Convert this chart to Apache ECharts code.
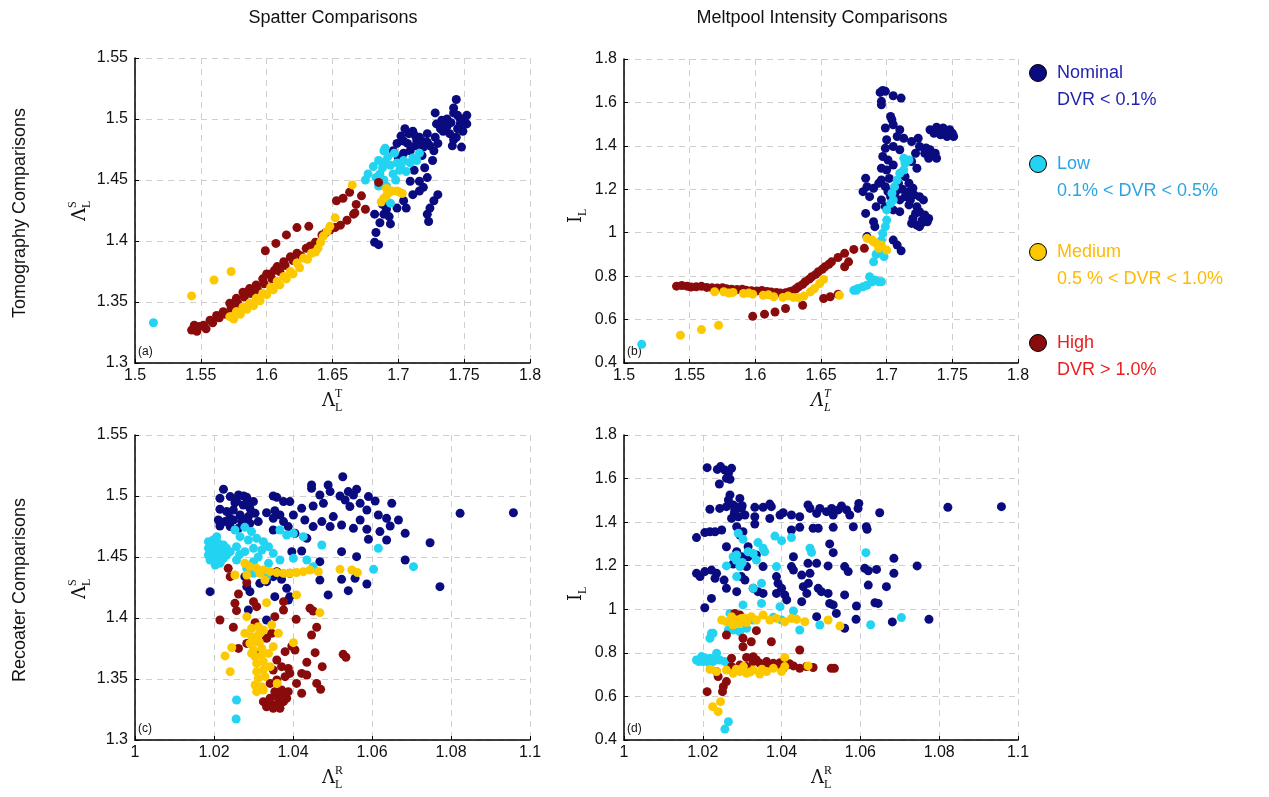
<!DOCTYPE html>
<html><head><meta charset="utf-8">
<script src="https://cdn.jsdelivr.net/npm/echarts@6/dist/echarts.min.js"></script>
<style>html,body{margin:0;padding:0;background:#fff}#c{width:1269px;height:797px}</style>
</head><body><div id="c"></div>
<script>
// ---------- DATA ----------
const categories = ['Nominal', 'Low', 'Medium', 'High'];
const categoryRanges = ['DVR < 0.1%', '0.1% < DVR < 0.5%', '0.5 % < DVR < 1.0%', 'DVR > 1.0%'];
const panelTitles = ['Spatter Comparisons', 'Meltpool Intensity Comparisons'];
const rowTitles = ['Tomography Comparisons', 'Recoater Comparisons'];
const panelLetters = ['(a)', '(b)', '(c)', '(d)'];
const xTicksTomo = [1.5, 1.55, 1.6, 1.65, 1.7, 1.75, 1.8];
const xTicksRec = [1, 1.02, 1.04, 1.06, 1.08, 1.1];
const yTicksSpatter = [1.3, 1.35, 1.4, 1.45, 1.5, 1.55];
const yTicksIntensity = [0.4, 0.6, 0.8, 1, 1.2, 1.4, 1.6, 1.8];

// (a) Tomography vs Spatter
const aNominal = [[1.682,1.399],[1.685,1.397],[1.683,1.407],[1.686,1.415],[1.682,1.422],[1.689,1.422],[1.694,1.414],[1.691,1.426],[1.699,1.427],[1.706,1.427],[1.704,1.433],[1.711,1.438],[1.709,1.449],[1.716,1.449],[1.722,1.452],[1.719,1.444],[1.722,1.422],[1.724,1.427],[1.727,1.433],[1.730,1.438],[1.723,1.416],[1.716,1.441],[1.696,1.474],[1.699,1.480],[1.704,1.482],[1.708,1.488],[1.705,1.492],[1.711,1.490],[1.716,1.485],[1.722,1.481],[1.727,1.474],[1.726,1.466],[1.719,1.477],[1.709,1.474],[1.704,1.472],[1.714,1.482],[1.728,1.485],[1.722,1.488],[1.729,1.496],[1.733,1.499],[1.737,1.500],[1.742,1.505],[1.744,1.516],[1.742,1.509],[1.747,1.496],[1.749,1.490],[1.752,1.503],[1.752,1.496],[1.739,1.488],[1.742,1.483],[1.748,1.477],[1.744,1.485],[1.737,1.494],[1.732,1.492],[1.747,1.500],[1.728,1.505],[1.735,1.497],[1.740,1.497],[1.745,1.503],[1.750,1.500],[1.713,1.478],[1.718,1.470],[1.700,1.468],[1.712,1.458],[1.720,1.460],[1.688,1.430],[1.693,1.420],[1.702,1.486],[1.707,1.480],[1.713,1.486],[1.718,1.482],[1.724,1.478],[1.730,1.480],[1.734,1.490],[1.745,1.492],[1.741,1.478]];
const aLow = [[1.514,1.333],[1.675,1.450],[1.677,1.455],[1.681,1.461],[1.685,1.466],[1.689,1.474],[1.690,1.476],[1.686,1.455],[1.689,1.450],[1.691,1.445],[1.692,1.439],[1.694,1.431],[1.685,1.445],[1.696,1.455],[1.699,1.464],[1.704,1.466],[1.709,1.464],[1.711,1.468],[1.716,1.472],[1.714,1.466],[1.701,1.458],[1.706,1.457],[1.697,1.472],[1.692,1.469],[1.688,1.460],[1.683,1.452],[1.694,1.462],[1.698,1.450],[1.702,1.462],[1.690,1.465]];
const aMedium = [[1.572,1.338],[1.575,1.336],[1.577,1.342],[1.580,1.340],[1.582,1.346],[1.585,1.344],[1.587,1.349],[1.590,1.347],[1.592,1.353],[1.595,1.351],[1.597,1.357],[1.600,1.356],[1.603,1.362],[1.605,1.360],[1.608,1.367],[1.610,1.364],[1.613,1.371],[1.615,1.369],[1.618,1.375],[1.620,1.373],[1.623,1.382],[1.625,1.378],[1.628,1.386],[1.631,1.385],[1.634,1.390],[1.637,1.391],[1.639,1.394],[1.641,1.399],[1.643,1.404],[1.646,1.408],[1.648,1.412],[1.652,1.419],[1.665,1.446],[1.543,1.355],[1.560,1.368],[1.573,1.375],[1.687,1.432],[1.689,1.435],[1.691,1.437],[1.693,1.440],[1.695,1.441],[1.699,1.441],[1.701,1.440],[1.703,1.439],[1.691,1.443]];
const aHigh = [[1.543,1.327],[1.545,1.331],[1.547,1.326],[1.549,1.330],[1.552,1.331],[1.554,1.328],[1.557,1.335],[1.559,1.333],[1.562,1.339],[1.564,1.337],[1.567,1.342],[1.569,1.340],[1.572,1.349],[1.573,1.345],[1.577,1.353],[1.578,1.349],[1.582,1.358],[1.583,1.354],[1.587,1.361],[1.588,1.357],[1.592,1.364],[1.593,1.360],[1.597,1.369],[1.598,1.365],[1.600,1.373],[1.603,1.373],[1.604,1.369],[1.606,1.376],[1.608,1.379],[1.610,1.375],[1.613,1.383],[1.614,1.380],[1.618,1.387],[1.620,1.384],[1.623,1.390],[1.626,1.388],[1.630,1.394],[1.633,1.396],[1.637,1.399],[1.642,1.405],[1.645,1.407],[1.648,1.409],[1.652,1.411],[1.656,1.413],[1.661,1.417],[1.666,1.422],[1.599,1.392],[1.607,1.398],[1.615,1.405],[1.623,1.411],[1.632,1.412],[1.653,1.433],[1.658,1.435],[1.663,1.440],[1.672,1.437],[1.668,1.430],[1.675,1.426],[1.667,1.423],[1.685,1.448]];

// (b) Tomography vs Meltpool intensity
const bNominal = [[1.695,1.646],[1.697,1.655],[1.699,1.651],[1.696,1.605],[1.696,1.589],[1.705,1.631],[1.711,1.620],[1.703,1.535],[1.704,1.520],[1.699,1.482],[1.705,1.497],[1.710,1.474],[1.708,1.443],[1.713,1.435],[1.700,1.428],[1.699,1.389],[1.705,1.397],[1.710,1.382],[1.719,1.420],[1.724,1.435],[1.697,1.351],[1.701,1.335],[1.705,1.312],[1.696,1.297],[1.700,1.289],[1.733,1.474],[1.738,1.486],[1.743,1.482],[1.748,1.474],[1.751,1.443],[1.746,1.443],[1.741,1.451],[1.736,1.458],[1.745,1.460],[1.750,1.458],[1.740,1.470],[1.725,1.397],[1.729,1.366],[1.733,1.382],[1.737,1.366],[1.738,1.343],[1.732,1.343],[1.722,1.366],[1.719,1.328],[1.723,1.297],[1.730,1.390],[1.684,1.251],[1.685,1.212],[1.682,1.189],[1.687,1.166],[1.690,1.205],[1.694,1.228],[1.696,1.243],[1.699,1.212],[1.701,1.189],[1.703,1.166],[1.706,1.166],[1.710,1.151],[1.714,1.166],[1.717,1.189],[1.721,1.174],[1.725,1.166],[1.728,1.151],[1.717,1.228],[1.714,1.258],[1.709,1.228],[1.696,1.151],[1.692,1.120],[1.699,1.120],[1.705,1.105],[1.710,1.097],[1.717,1.128],[1.723,1.120],[1.725,1.097],[1.729,1.082],[1.732,1.066],[1.720,1.066],[1.723,1.035],[1.725,1.028],[1.719,1.043],[1.722,1.089],[1.727,1.058],[1.684,1.089],[1.690,1.051],[1.691,1.028],[1.685,0.982],[1.705,0.966],[1.708,0.943],[1.711,0.917],[1.712,1.200],[1.707,1.190],[1.720,1.205],[1.727,1.045],[1.731,1.050],[1.718,1.150],[1.702,1.250]];
const bLow = [[1.5135,0.486],[1.675,0.735],[1.677,0.735],[1.678,0.743],[1.682,0.751],[1.685,0.758],[1.689,0.774],[1.687,0.797],[1.691,0.782],[1.694,0.774],[1.696,0.774],[1.690,0.866],[1.693,0.905],[1.695,0.935],[1.696,0.966],[1.697,0.997],[1.699,1.028],[1.700,1.058],[1.700,1.105],[1.703,1.135],[1.704,1.182],[1.705,1.151],[1.706,1.212],[1.708,1.243],[1.710,1.274],[1.713,1.289],[1.714,1.320],[1.717,1.335],[1.713,1.343],[1.697,0.905],[1.698,0.890],[1.692,0.900]];
const bMedium = [[1.543,0.528],[1.559,0.554],[1.572,0.574],[1.664,0.712],[1.569,0.728],[1.576,0.728],[1.583,0.725],[1.591,0.720],[1.598,0.717],[1.606,0.712],[1.614,0.705],[1.621,0.702],[1.629,0.702],[1.637,0.708],[1.642,0.728],[1.645,0.743],[1.649,0.766],[1.652,0.785],[1.580,0.722],[1.595,0.722],[1.610,0.714],[1.625,0.709],[1.633,0.700],[1.685,0.974],[1.689,0.966],[1.692,0.951],[1.696,0.943],[1.700,0.920],[1.694,0.928],[1.690,0.958]];
const bHigh = [[1.540,0.754],[1.544,0.757],[1.548,0.754],[1.551,0.750],[1.555,0.751],[1.559,0.753],[1.563,0.748],[1.567,0.746],[1.571,0.745],[1.575,0.747],[1.578,0.742],[1.582,0.740],[1.586,0.738],[1.590,0.740],[1.593,0.735],[1.597,0.733],[1.601,0.732],[1.605,0.734],[1.609,0.729],[1.612,0.727],[1.616,0.725],[1.619,0.722],[1.623,0.723],[1.626,0.728],[1.628,0.732],[1.631,0.742],[1.633,0.751],[1.636,0.762],[1.638,0.774],[1.641,0.786],[1.643,0.797],[1.646,0.808],[1.648,0.820],[1.651,0.832],[1.653,0.843],[1.656,0.855],[1.658,0.866],[1.663,0.886],[1.668,0.905],[1.675,0.923],[1.683,0.928],[1.598,0.615],[1.607,0.625],[1.615,0.635],[1.623,0.651],[1.636,0.666],[1.652,0.697],[1.657,0.705],[1.663,0.717],[1.668,0.843],[1.671,0.866]];

// (c) Recoater vs Spatter
const cNominal = [[1.0224,1.5055],[1.0215,1.4981],[1.0241,1.4995],[1.0262,1.5008],[1.0283,1.4989],[1.0300,1.4954],[1.0253,1.4945],[1.0274,1.4926],[1.0291,1.4899],[1.0215,1.4891],[1.0232,1.4872],[1.0249,1.4885],[1.0266,1.4844],[1.0287,1.4831],[1.0304,1.4858],[1.0211,1.4803],[1.0228,1.4790],[1.0249,1.4803],[1.0270,1.4790],[1.0291,1.4776],[1.0312,1.4790],[1.0215,1.4754],[1.0241,1.4749],[1.0262,1.4735],[1.0283,1.4940],[1.0333,1.4863],[1.0350,1.5000],[1.0359,1.4989],[1.0376,1.4954],[1.0392,1.4954],[1.0354,1.4880],[1.0367,1.4844],[1.0401,1.4844],[1.0376,1.4790],[1.0422,1.4899],[1.0430,1.4803],[1.0350,1.4817],[1.0388,1.4749],[1.0350,1.4721],[1.0405,1.4694],[1.0526,1.5158],[1.0447,1.5090],[1.0447,1.5063],[1.0489,1.5090],[1.0494,1.5036],[1.0468,1.5008],[1.0477,1.4940],[1.0451,1.4918],[1.0519,1.5000],[1.0540,1.5036],[1.0561,1.5055],[1.0553,1.5008],[1.0532,1.4967],[1.0544,1.4913],[1.0570,1.4940],[1.0591,1.4995],[1.0608,1.4959],[1.0650,1.4940],[1.0587,1.4885],[1.0616,1.4844],[1.0637,1.4817],[1.0667,1.4803],[1.0823,1.4858],[1.0958,1.4863],[1.0570,1.4803],[1.0502,1.4831],[1.0473,1.4790],[1.0451,1.4749],[1.0494,1.4749],[1.0523,1.4762],[1.0553,1.4735],[1.0587,1.4727],[1.0620,1.4708],[1.0646,1.4754],[1.0684,1.4694],[1.0591,1.4645],[1.0637,1.4639],[1.0747,1.4617],[1.0684,1.4475],[1.0523,1.4544],[1.0561,1.4503],[1.0468,1.4462],[1.0587,1.4279],[1.0772,1.4257],[1.0489,1.4189],[1.0540,1.4224],[1.0468,1.4311],[1.0557,1.4325],[1.0523,1.4317],[1.0435,1.4653],[1.0422,1.4549],[1.0397,1.4544],[1.0190,1.4216],[1.0283,1.4257],[1.0291,1.4216],[1.0278,1.4339],[1.0300,1.4393],[1.0316,1.4284],[1.0333,1.4298],[1.0354,1.4175],[1.0350,1.4339],[1.0371,1.4317],[1.0384,1.4243],[1.0392,1.4175],[1.0388,1.4148],[1.0333,1.3984],[1.0287,1.4066],[1.0359,1.4380],[1.0392,1.4366],[1.0257,1.4960],[1.0275,1.5000],[1.0295,1.4860],[1.0240,1.4820],[1.0280,1.4800]];
const cLow = [[1.0186,1.4626],[1.0186,1.4571],[1.0186,1.4516],[1.0190,1.4475],[1.0198,1.4639],[1.0198,1.4585],[1.0198,1.4530],[1.0203,1.4434],[1.0211,1.4612],[1.0211,1.4557],[1.0211,1.4503],[1.0215,1.4448],[1.0224,1.4598],[1.0224,1.4544],[1.0224,1.4489],[1.0232,1.4571],[1.0232,1.4516],[1.0241,1.4544],[1.0207,1.4667],[1.0192,1.4600],[1.0205,1.4540],[1.0218,1.4470],[1.0200,1.4490],[1.0253,1.4721],[1.0278,1.4743],[1.0295,1.4708],[1.0266,1.4667],[1.0287,1.4639],[1.0308,1.4653],[1.0325,1.4626],[1.0257,1.4585],[1.0278,1.4544],[1.0300,1.4571],[1.0321,1.4557],[1.0338,1.4585],[1.0350,1.4530],[1.0367,1.4721],[1.0384,1.4680],[1.0401,1.4694],[1.0426,1.4667],[1.0367,1.4475],[1.0401,1.4489],[1.0435,1.4475],[1.0451,1.4421],[1.0473,1.4598],[1.0616,1.4571],[1.0604,1.4399],[1.0705,1.4421],[1.0257,1.4475],[1.0283,1.4407],[1.0300,1.4366],[1.0333,1.4339],[1.0257,1.3328],[1.0256,1.3172],[1.0300,1.4462],[1.0338,1.4448],[1.0265,1.4520],[1.0312,1.4500]];
const cMedium = [[1.0278,1.4448],[1.0291,1.4421],[1.0308,1.4407],[1.0325,1.4393],[1.0342,1.4380],[1.0359,1.4372],[1.0376,1.4366],[1.0392,1.4366],[1.0409,1.4372],[1.0426,1.4380],[1.0443,1.4393],[1.0464,1.4380],[1.0519,1.4399],[1.0549,1.4393],[1.0563,1.4372],[1.0283,1.4352],[1.0316,1.4366],[1.0253,1.4352],[1.0329,1.4311],[1.0409,1.4189],[1.0333,1.4126],[1.0468,1.4044],[1.0283,1.4011],[1.0346,1.3943],[1.0401,1.3798],[1.0228,1.3689],[1.0241,1.3560],[1.0245,1.3757],[1.0360,1.3464],[1.0295,1.3915],[1.0312,1.3929],[1.0325,1.3902],[1.0278,1.3874],[1.0295,1.3847],[1.0312,1.3861],[1.0291,1.3792],[1.0308,1.3806],[1.0300,1.3738],[1.0321,1.3751],[1.0304,1.3683],[1.0321,1.3697],[1.0308,1.3628],[1.0325,1.3642],[1.0308,1.3560],[1.0325,1.3574],[1.0312,1.3505],[1.0329,1.3519],[1.0304,1.3451],[1.0321,1.3437],[1.0308,1.3396],[1.0325,1.3410],[1.0295,1.3710],[1.0342,1.3601],[1.0338,1.3710],[1.0363,1.3874],[1.0350,1.3765],[1.0315,1.3800],[1.0318,1.3880]];
const cHigh = [[1.0325,1.3314],[1.0338,1.3301],[1.0350,1.3287],[1.0363,1.3301],[1.0376,1.3314],[1.0384,1.3342],[1.0342,1.3342],[1.0359,1.3355],[1.0376,1.3369],[1.0350,1.3260],[1.0367,1.3260],[1.0333,1.3273],[1.0354,1.3396],[1.0371,1.3410],[1.0388,1.3396],[1.0342,1.3464],[1.0359,1.3492],[1.0380,1.3519],[1.0392,1.3546],[1.0350,1.3574],[1.0371,1.3601],[1.0388,1.3587],[1.0422,1.3546],[1.0435,1.3533],[1.0460,1.3464],[1.0470,1.3415],[1.0409,1.3464],[1.0422,1.3383],[1.0435,1.3637],[1.0474,1.3601],[1.0456,1.3716],[1.0527,1.3702],[1.0534,1.3678],[1.0405,1.3738],[1.0397,1.3770],[1.0380,1.3724],[1.0359,1.3656],[1.0333,1.3833],[1.0346,1.3874],[1.0316,1.3710],[1.0283,1.3792],[1.0262,1.3751],[1.0447,1.3861],[1.0460,1.3924],[1.0443,1.4079],[1.0451,1.4057],[1.0408,1.3989],[1.0376,1.4066],[1.0376,1.4134],[1.0300,1.4134],[1.0308,1.4093],[1.0253,1.4120],[1.0257,1.4060],[1.0215,1.3984],[1.0249,1.3924],[1.0304,1.3962],[1.0262,1.4197],[1.0241,1.4339],[1.0236,1.4407],[1.0283,1.4290],[1.0354,1.4011]];

// (d) Recoater vs Meltpool intensity
const dNominal = [[1.0211,1.650],[1.0237,1.642],[1.0245,1.655],[1.0256,1.639],[1.0265,1.624],[1.0273,1.647],[1.0260,1.601],[1.0242,1.575],[1.0269,1.597],[1.0269,1.525],[1.0265,1.502],[1.0218,1.459],[1.0243,1.463],[1.0260,1.471],[1.0277,1.479],[1.0294,1.509],[1.0281,1.456],[1.0298,1.463],[1.0307,1.433],[1.0290,1.425],[1.0273,1.417],[1.0332,1.468],[1.0353,1.468],[1.0370,1.483],[1.0374,1.471],[1.0332,1.425],[1.0332,1.391],[1.0370,1.417],[1.0396,1.433],[1.0404,1.443],[1.0425,1.433],[1.0446,1.425],[1.0467,1.479],[1.0472,1.463],[1.0489,1.440],[1.0497,1.463],[1.0514,1.448],[1.0527,1.463],[1.0531,1.433],[1.0544,1.456],[1.0552,1.474],[1.0565,1.456],[1.0573,1.433],[1.0594,1.463],[1.0596,1.486],[1.0480,1.372],[1.0493,1.372],[1.0531,1.376],[1.0446,1.376],[1.0425,1.364],[1.0582,1.379],[1.0615,1.379],[1.0617,1.367],[1.0649,1.443],[1.0822,1.468],[1.0958,1.471],[1.0184,1.329],[1.0205,1.352],[1.0218,1.356],[1.0231,1.356],[1.0248,1.364],[1.0286,1.379],[1.0302,1.356],[1.0294,1.341],[1.0260,1.287],[1.0286,1.264],[1.0298,1.241],[1.0315,1.241],[1.0336,1.249],[1.0315,1.287],[1.0311,1.196],[1.0277,1.208],[1.0298,1.150],[1.0307,1.134],[1.0286,1.081],[1.0328,1.096],[1.0340,1.081],[1.0353,1.073],[1.0353,1.196],[1.0387,1.150],[1.0391,1.119],[1.0400,1.096],[1.0387,1.073],[1.0408,1.066],[1.0413,1.043],[1.0425,1.196],[1.0430,1.180],[1.0430,1.241],[1.0451,1.157],[1.0455,1.104],[1.0464,1.073],[1.0451,1.035],[1.0468,1.119],[1.0472,1.165],[1.0467,1.211],[1.0489,1.211],[1.0493,1.096],[1.0501,1.081],[1.0518,1.073],[1.0522,1.027],[1.0531,1.020],[1.0539,0.981],[1.0522,1.300],[1.0531,1.260],[1.0518,1.199],[1.0560,1.196],[1.0569,1.173],[1.0560,1.066],[1.0590,1.015],[1.0589,0.954],[1.0611,1.188],[1.0620,1.177],[1.0641,1.183],[1.0620,1.111],[1.0637,1.030],[1.0645,1.027],[1.0666,1.104],[1.0685,1.234],[1.0685,1.165],[1.0681,0.942],[1.0744,1.199],[1.0774,0.954],[1.0560,0.913],[1.0489,0.966],[1.0184,1.165],[1.0193,1.150],[1.0205,1.173],[1.0222,1.180],[1.0235,1.165],[1.0231,1.142],[1.0254,1.134],[1.0222,1.050],[1.0205,1.007],[1.0260,1.096],[1.0280,1.440],[1.0300,1.475],[1.0285,1.470]];
const dLow = [[1.0184,0.767],[1.0193,0.770],[1.0201,0.760],[1.0210,0.767],[1.0218,0.775],[1.0226,0.760],[1.0235,0.798],[1.0243,0.767],[1.0256,0.760],[1.0265,0.752],[1.0197,0.783],[1.0218,0.749],[1.0190,0.760],[1.0205,0.775],[1.0230,0.770],[1.0222,0.890],[1.0218,0.867],[1.0226,0.890],[1.0265,0.905],[1.0256,0.450],[1.0265,0.484],[1.0290,1.349],[1.0302,1.321],[1.0286,1.249],[1.0277,1.241],[1.0260,1.199],[1.0286,1.150],[1.0294,1.196],[1.0315,1.264],[1.0328,1.256],[1.0340,1.306],[1.0353,1.280],[1.0357,1.264],[1.0336,1.226],[1.0387,1.196],[1.0383,1.336],[1.0425,1.329],[1.0400,1.315],[1.0328,1.096],[1.0349,1.119],[1.0349,1.027],[1.0302,1.020],[1.0269,0.981],[1.0379,0.963],[1.0400,0.951],[1.0430,0.992],[1.0446,0.905],[1.0396,1.012],[1.0472,1.280],[1.0476,1.261],[1.0614,1.260],[1.0497,0.928],[1.0626,0.929],[1.0704,0.962],[1.0277,0.905],[1.0294,0.897],[1.0311,0.913],[1.0328,0.951],[1.0285,1.225],[1.0300,1.215]];
const dMedium = [[1.0248,0.951],[1.0260,0.943],[1.0273,0.966],[1.0286,0.951],[1.0298,0.958],[1.0311,0.939],[1.0323,0.966],[1.0336,0.951],[1.0353,0.974],[1.0370,0.951],[1.0387,0.958],[1.0408,0.943],[1.0425,0.958],[1.0438,0.954],[1.0459,0.943],[1.0518,0.951],[1.0548,0.923],[1.0277,0.928],[1.0292,0.935],[1.0305,0.960],[1.0218,0.724],[1.0235,0.714],[1.0260,0.721],[1.0277,0.706],[1.0294,0.714],[1.0311,0.706],[1.0328,0.721],[1.0345,0.703],[1.0362,0.714],[1.0379,0.729],[1.0400,0.714],[1.0408,0.737],[1.0303,0.737],[1.0467,0.740],[1.0285,0.725],[1.0320,0.712],[1.0350,0.725],[1.0225,0.553],[1.0239,0.530],[1.0245,0.576],[1.0408,0.779]];
const dHigh = [[1.0294,0.744],[1.0311,0.737],[1.0328,0.760],[1.0345,0.752],[1.0362,0.760],[1.0379,0.752],[1.0396,0.755],[1.0413,0.744],[1.0430,0.740],[1.0446,0.729],[1.0463,0.737],[1.0480,0.733],[1.0336,0.767],[1.0370,0.737],[1.0404,0.729],[1.0526,0.729],[1.0534,0.729],[1.0446,0.813],[1.0374,0.851],[1.0323,0.851],[1.0302,0.828],[1.0302,0.867],[1.0281,0.981],[1.0294,0.974],[1.0336,0.902],[1.0273,0.737],[1.0273,0.775],[1.0260,0.882],[1.0235,0.714],[1.0239,0.691],[1.0260,0.668],[1.0252,0.645],[1.0250,0.622],[1.0211,0.622],[1.0311,0.779],[1.0328,0.782],[1.0355,0.745],[1.0390,0.745],[1.0420,0.750]];

// ---------- STYLE ----------
const markerColors = ['#0b0b80', '#22d4f2', '#fcc800', '#8a0b0b'];
const legendTextColors = ['#1f1fb0', '#2ba5e2', '#ffb900', '#e81e1e'];
const FONT = 'Arial, "Liberation Sans", sans-serif';

const panels = [
  {data:[aNominal,aLow,aMedium,aHigh], xt:xTicksTomo, yt:yTicksSpatter, grid:{left:135,top:58,width:395,height:305}},
  {data:[bNominal,bLow,bMedium,bHigh], xt:xTicksTomo, yt:yTicksIntensity, grid:{left:624,top:59,width:394,height:304}},
  {data:[cNominal,cLow,cMedium,cHigh], xt:xTicksRec, yt:yTicksSpatter, grid:{left:135,top:435,width:395,height:305}},
  {data:[dNominal,dLow,dMedium,dHigh], xt:xTicksRec, yt:yTicksIntensity, grid:{left:624,top:435,width:394,height:305}}
];

function axisBase(){
  return {
    axisLine:{show:true,onZero:false,lineStyle:{color:'#000',width:1.5}},
    axisTick:{show:true,inside:true,length:4,lineStyle:{color:'#000'}},
    splitLine:{show:true,lineStyle:{color:'#cfcfcf',type:[6,5],width:1}}
  };
}

const grids = [], xAxes = [], yAxes = [], series = [];
const drawOrder = [0,1,3,2];
panels.forEach((p,i)=>{
  grids.push(p.grid);
  const xi = p.xt[1]-p.xt[0], yi = p.yt[1]-p.yt[0];
  xAxes.push(Object.assign({type:'value',gridIndex:i,min:p.xt[0],max:p.xt[p.xt.length-1],interval:+xi.toFixed(4)}, axisBase(), {axisLabel:{color:'#111',fontSize:16,fontFamily:FONT,margin:5}}));
  yAxes.push(Object.assign({type:'value',gridIndex:i,min:p.yt[0],max:p.yt[p.yt.length-1],interval:+yi.toFixed(4)}, axisBase(), {axisLabel:{color:'#111',fontSize:16,fontFamily:FONT,margin:7}}));
  drawOrder.forEach(c=>{
    series.push({type:'scatter',name:categories[c],xAxisIndex:i,yAxisIndex:i,data:p.data[c],symbolSize:9,
      itemStyle:{color:markerColors[c],opacity:1},silent:true,animation:false});
  });
});

// ---------- TEXT (graphic) ----------
const g = [];
function txt(x,y,s,o){ g.push({type:'text',x:x,y:y,style:Object.assign({text:s,fontFamily:FONT,fill:'#111',fontSize:18,textAlign:'center',textVerticalAlign:'middle'},o||{})}); }
txt(333,18,panelTitles[0]);
txt(822,18,panelTitles[1]);
g.push({type:'text',x:20,y:213,rotation:Math.PI/2,style:{text:rowTitles[0],fontFamily:FONT,fill:'#111',fontSize:18,textAlign:'center',textVerticalAlign:'middle'}});
g.push({type:'text',x:20,y:590,rotation:Math.PI/2,style:{text:rowTitles[1],fontFamily:FONT,fill:'#111',fontSize:18,textAlign:'center',textVerticalAlign:'middle'}});

function symLabel(x,y,main,sup,sub,rot,italic){
  const fs = italic ? 'italic' : 'normal';
  const ch = [
    {type:'text',x:-9,y:0,style:{text:main,fontFamily:'"DejaVu Serif", "Liberation Serif", serif',fontStyle:fs,fill:'#111',fontSize:18,textAlign:'left',textVerticalAlign:'middle'}}
  ];
  if(sup) ch.push({type:'text',x:4,y:-7,style:{text:sup,fontFamily:'"Liberation Serif", serif',fontStyle:fs,fill:'#111',fontSize:12,textAlign:'left',textVerticalAlign:'middle'}});
  if(sub) ch.push({type:'text',x:(main==='I'?-2:4),y:7,style:{text:sub,fontFamily:'"Liberation Serif", serif',fontStyle:fs,fill:'#111',fontSize:12,textAlign:'left',textVerticalAlign:'middle'}});
  g.push({type:'group',x:x,y:y,rotation:rot?Math.PI/2:0,children:ch});
}
// axis names
symLabel(331,401,'Λ','T','L',false,false);
symLabel(820,401,'Λ','T','L',false,true);
symLabel(331,778,'Λ','R','L',false,false);
symLabel(820,778,'Λ','R','L',false,false);
symLabel(80,212,'Λ','S','L',true,false);
symLabel(80,590,'Λ','S','L',true,false);
symLabel(576,214,'I',null,'L',true,false);
symLabel(576,592,'I',null,'L',true,false);

// panel letters
[[138,352],[627,352],[138,729],[627,729]].forEach((pt,i)=>{
  g.push({type:'text',x:pt[0],y:pt[1],style:{text:panelLetters[i],fontFamily:FONT,fill:'#111',fontSize:12,textAlign:'left',textVerticalAlign:'middle'}});
});

// legend
const legY = [73,164,252,343];
categories.forEach((c,i)=>{
  g.push({type:'circle',shape:{cx:1038,cy:legY[i],r:8.5},style:{fill:markerColors[i],stroke:'#000',lineWidth:1}});
  g.push({type:'text',x:1057,y:legY[i],style:{text:c,fontFamily:FONT,fill:legendTextColors[i],fontSize:18,textAlign:'left',textVerticalAlign:'middle'}});
  g.push({type:'text',x:1057,y:legY[i]+27,style:{text:categoryRanges[i],fontFamily:FONT,fill:legendTextColors[i],fontSize:18,textAlign:'left',textVerticalAlign:'middle'}});
});

const chart = echarts.init(document.getElementById('c'),null,{renderer:'canvas'});
chart.setOption({animation:false,backgroundColor:'#fff',grid:grids,xAxis:xAxes,yAxis:yAxes,series:series,graphic:g});
</script></body></html>
